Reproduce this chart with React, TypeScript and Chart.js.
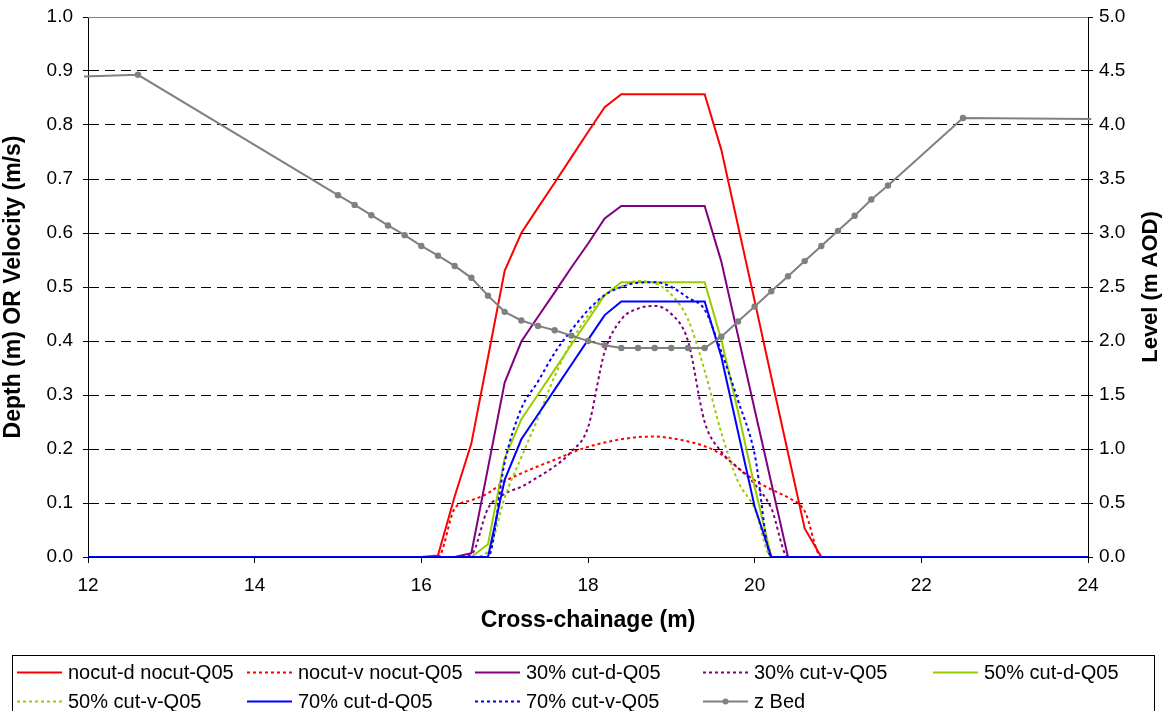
import React, { useEffect, useRef } from "react";
import { Chart, registerables } from "chart.js";

Chart.register(...registerables);

// Cross-chainage stations (m)
const chainage = [
  11.95, 12.6, 15.0, 15.2, 15.4, 15.6, 15.8, 16.0, 16.2, 16.4, 16.6, 16.8, 17.0,
  17.2, 17.4, 17.6, 17.8, 18.0, 18.2, 18.4, 18.6, 18.8, 19.0, 19.2, 19.4, 19.6,
  19.8, 20.0, 20.2, 20.4, 20.6, 20.8, 21.0, 21.2, 21.4, 21.6, 22.5, 24.04,
];

// Bed level (m AOD)
const zBed = [
  4.45, 4.465, 3.35, 3.26, 3.165, 3.07, 2.98, 2.88, 2.79, 2.695, 2.585, 2.42,
  2.27, 2.19, 2.14, 2.1, 2.05, 2.0, 1.96, 1.935, 1.935, 1.935, 1.935, 1.935,
  1.935, 2.04, 2.18, 2.32, 2.46, 2.6, 2.74, 2.88, 3.02, 3.16, 3.31, 3.44, 4.065,
  4.055,
];

// Depth (m) and velocity (m/s) per scenario
const nocutDepth = [
  0, 0, 0, 0, 0, 0, 0, 0, 0.003, 0.112, 0.21, 0.37, 0.53, 0.6, 0.647, 0.693,
  0.74, 0.787, 0.833, 0.857, 0.857, 0.857, 0.857, 0.857, 0.857, 0.754, 0.614,
  0.474, 0.333, 0.193, 0.053, 0, 0, 0, 0, 0, 0, 0,
];
const nocutVelocity = [
  0, 0, 0, 0, 0, 0, 0, 0, 0, 0.09, 0.105, 0.118, 0.14, 0.155, 0.168, 0.18,
  0.193, 0.204, 0.212, 0.218, 0.222, 0.223, 0.22, 0.214, 0.205, 0.19, 0.165,
  0.142, 0.125, 0.11, 0.085, 0, 0, 0, 0, 0, 0, 0,
];
const cut30Depth = [
  0, 0, 0, 0, 0, 0, 0, 0, 0, 0, 0.007, 0.165, 0.323, 0.399, 0.445, 0.49, 0.536,
  0.58, 0.627, 0.65, 0.65, 0.65, 0.65, 0.65, 0.65, 0.547, 0.41, 0.273, 0.137, 0,
  0, 0, 0, 0, 0, 0, 0, 0,
];
const cut30Velocity = [
  0, 0, 0, 0, 0, 0, 0, 0, 0, 0, 0.005, 0.09, 0.117, 0.13, 0.148, 0.168, 0.195,
  0.24, 0.38, 0.44, 0.46, 0.465, 0.45, 0.4, 0.25, 0.195, 0.165, 0.135, 0.09, 0,
  0, 0, 0, 0, 0, 0, 0, 0,
];
const cut50Depth = [
  0, 0, 0, 0, 0, 0, 0, 0, 0, 0, 0, 0.0235, 0.183, 0.255, 0.301, 0.347, 0.393,
  0.439, 0.485, 0.509, 0.509, 0.509, 0.509, 0.509, 0.509, 0.402, 0.27, 0.13, 0,
  0, 0, 0, 0, 0, 0, 0, 0, 0,
];
const cut50Velocity = [
  0, 0, 0, 0, 0, 0, 0, 0, 0, 0, 0, 0.01, 0.11, 0.185, 0.257, 0.335, 0.398,
  0.447, 0.485, 0.501, 0.511, 0.507, 0.486, 0.44, 0.345, 0.23, 0.14, 0.09, 0, 0,
  0, 0, 0, 0, 0, 0, 0, 0,
];
const cut70Depth = [
  0, 0, 0, 0, 0, 0, 0, 0, 0, 0, 0, 0, 0.143, 0.218, 0.264, 0.31, 0.356, 0.402,
  0.448, 0.473, 0.473, 0.473, 0.473, 0.473, 0.473, 0.371, 0.232, 0.093, 0, 0, 0,
  0, 0, 0, 0, 0, 0, 0,
];
const cut70Velocity = [
  0, 0, 0, 0, 0, 0, 0, 0, 0, 0, 0, 0, 0.175, 0.275, 0.325, 0.378, 0.42, 0.457,
  0.485, 0.5, 0.508, 0.509, 0.5, 0.48, 0.458, 0.38, 0.29, 0.19, 0, 0, 0, 0, 0,
  0, 0, 0, 0, 0,
];

const seriesLabels = [
  "nocut-d nocut-Q05",
  "nocut-v nocut-Q05",
  "30% cut-d-Q05",
  "30% cut-v-Q05",
  "50% cut-d-Q05",
  "50% cut-v-Q05",
  "70% cut-d-Q05",
  "70% cut-v-Q05",
  "z Bed",
];

const FONT = "'Liberation Sans', Arial, Helvetica, sans-serif";

const toPoints = (values: number[]) =>
  chainage.map((x, i) => ({ x, y: values[i] }));

// Boxed legend laid out in five fixed columns under the plot
const boxLegend = {
  id: "boxLegend",
  afterDraw(chart: any) {
    const ctx: CanvasRenderingContext2D = chart.ctx;
    ctx.save();
    ctx.setLineDash([]);
    ctx.strokeStyle = "#000";
    ctx.lineWidth = 1;
    ctx.strokeRect(12.5, 655.5, 1142, 60);
    const cols = [17, 247, 475, 703, 933];
    const rows = [672, 701];
    chart.data.datasets.forEach((ds: any, i: number) => {
      const x0 = cols[i % 5];
      const y0 = rows[Math.floor(i / 5)];
      ctx.strokeStyle = ds.borderColor;
      ctx.lineWidth = ds.borderWidth;
      ctx.setLineDash(ds.borderDash || []);
      ctx.beginPath();
      ctx.moveTo(x0, y0 + 0.5);
      ctx.lineTo(x0 + 45, y0 + 0.5);
      ctx.stroke();
      ctx.setLineDash([]);
      if (ds.legendMarker) {
        ctx.fillStyle = ds.borderColor;
        ctx.beginPath();
        ctx.arc(x0 + 22.5, y0 + 0.5, 3, 0, Math.PI * 2);
        ctx.fill();
      }
      ctx.fillStyle = "#000";
      ctx.font = `20px ${FONT}`;
      ctx.textBaseline = "middle";
      ctx.textAlign = "left";
      ctx.fillText(ds.label, x0 + 51, y0 + 1);
    });
    ctx.restore();
  },
};

// Plot frame top edge and the secondary axis title
const frameExtras = {
  id: "frameExtras",
  beforeDatasetsDraw(chart: any) {
    const { ctx, chartArea } = chart;
    ctx.save();
    ctx.strokeStyle = "#808080";
    ctx.lineWidth = 1;
    ctx.beginPath();
    ctx.moveTo(chartArea.left, chartArea.top + 0.5);
    ctx.lineTo(chartArea.right, chartArea.top + 0.5);
    ctx.stroke();
    ctx.restore();
  },
  afterDraw(chart: any) {
    const { ctx, chartArea } = chart;
    ctx.save();
    ctx.translate(1151, (chartArea.top + chartArea.bottom) / 2);
    ctx.rotate(-Math.PI / 2);
    ctx.fillStyle = "#000";
    ctx.font = `bold 22px ${FONT}`;
    ctx.textAlign = "center";
    ctx.textBaseline = "middle";
    ctx.fillText("Level (m AOD)", 0, 0);
    ctx.restore();
  },
};

// Vertical axes: fixed width, and no extra room reserved above/below the plot for end labels
const fixVertical = (width: number) => (scale: any) => {
  scale.width = width;
  scale.paddingTop = 0;
  scale.paddingBottom = 0;
};

export default function App() {
  const canvasRef = useRef<HTMLCanvasElement | null>(null);

  useEffect(() => {
    const canvas = canvasRef.current;
    if (!canvas) return;

    const solid = (i: number, values: number[], color: string) => ({
      label: seriesLabels[i],
      data: toPoints(values),
      borderColor: color,
      backgroundColor: color,
      borderWidth: 2,
      pointRadius: 0,
      tension: 0,
      yAxisID: "y",
      order: 20 - i,
    });
    const dotted = (i: number, values: number[], color: string) => ({
      label: seriesLabels[i],
      data: toPoints(values),
      borderColor: color,
      backgroundColor: color,
      borderWidth: 2,
      borderDash: [3, 3],
      pointRadius: 0,
      cubicInterpolationMode: "monotone",
      yAxisID: "y",
      order: 20 - i,
    });

    const chart = new Chart(canvas, {
      type: "line",
      data: {
        datasets: [
          solid(0, nocutDepth, "#FF0000"),
          dotted(1, nocutVelocity, "#FF0000"),
          solid(2, cut30Depth, "#800080"),
          dotted(3, cut30Velocity, "#800080"),
          solid(4, cut50Depth, "#99CC00"),
          dotted(5, cut50Velocity, "#99CC00"),
          solid(6, cut70Depth, "#0000FF"),
          dotted(7, cut70Velocity, "#0000FF"),
          {
            label: seriesLabels[8],
            data: toPoints(zBed),
            borderColor: "#808080",
            backgroundColor: "#808080",
            borderWidth: 2,
            pointRadius: chainage.map((x) => (x < 12 || x > 24 ? 0 : 3.2)),
            pointBorderWidth: 0,
            pointStyle: "circle",
            tension: 0,
            yAxisID: "y2",
            order: 1,
            clip: { left: 4, right: 4, top: 0, bottom: 0 },
            legendMarker: true,
          } as any,
        ],
      },
      options: {
        animation: false,
        responsive: false,
        devicePixelRatio: 1,
        layout: { padding: { top: 17, bottom: 71, left: 0, right: 0 } },
        plugins: {
          legend: { display: false },
          tooltip: { enabled: false },
        },
        scales: {
          x: {
            type: "linear",
            min: 12,
            max: 24,
            ticks: {
              stepSize: 2,
              color: "#000",
              font: { family: FONT, size: 19 },
              padding: 11,
              maxRotation: 0,
            },
            grid: {
              drawOnChartArea: false,
              tickLength: 6,
              tickColor: "#000",
            },
            border: { display: true, color: "#000", width: 1 },
            title: {
              display: true,
              text: "Cross-chainage (m)",
              color: "#000",
              font: { family: FONT, size: 23, weight: "bold" },
              padding: { top: 0, bottom: 6 },
            },
            afterFit(scale: any) {
              scale.height = 83;
            },
          },
          y: {
            type: "linear",
            position: "left",
            min: 0,
            max: 1,
            ticks: {
              stepSize: 0.1,
              color: "#000",
              font: { family: FONT, size: 19 },
              padding: 10,
              callback: (v: any) => Number(v).toFixed(1),
            },
            grid: {
              drawOnChartArea: true,
              tickLength: 5,
              tickColor: "#000",
              lineWidth: 1,
              color: (ctx: any) => {
                const v = ctx.tick ? ctx.tick.value : 0;
                return v <= 0.0001 || v >= 0.9999 ? "rgba(0,0,0,0)" : "#000";
              },
            },
            border: { display: true, color: "#000", width: 1, dash: [10, 6] },
            title: {
              display: true,
              text: "Depth (m) OR Velocity (m/s)",
              color: "#000",
              font: { family: FONT, size: 23, weight: "bold" },
              padding: { top: 0, bottom: 0 },
            },
            afterFit: fixVertical(88),
          },
          y2: {
            type: "linear",
            position: "right",
            min: 0,
            max: 5,
            ticks: {
              stepSize: 0.5,
              color: "#000",
              font: { family: FONT, size: 19 },
              padding: 6,
              callback: (v: any) => Number(v).toFixed(1),
            },
            grid: {
              drawOnChartArea: false,
              tickLength: 5,
              tickColor: "#000",
            },
            border: { display: true, color: "#000", width: 1 },
            afterFit: fixVertical(82),
          },
        },
      } as any,
      plugins: [frameExtras, boxLegend],
    });

    return () => chart.destroy();
  }, []);

  return (
    <div
      style={{
        position: "absolute",
        left: 0,
        top: 0,
        width: 1170,
        height: 711,
        background: "#fff",
      }}
    >
      <canvas ref={canvasRef} width={1170} height={711} />
    </div>
  );
}
